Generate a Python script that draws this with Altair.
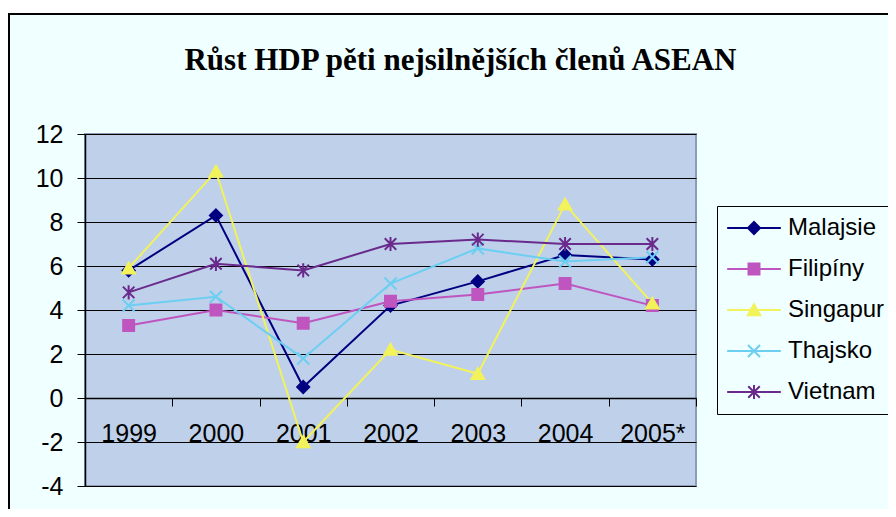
import altair as alt
import pandas as pd

# ---- data ----
years = ["1999", "2000", "2001", "2002", "2003", "2004", "2005*"]
series = ["Malajsie", "Filipíny", "Singapur", "Thajsko", "Vietnam"]
malajsie = [5.8, 8.3, 0.5, 4.2, 5.3, 6.5, 6.3]
filipiny = [3.3, 4.0, 3.4, 4.4, 4.7, 5.2, 4.2]
singapur = [5.9, 10.3, -2.0, 2.2, 1.1, 8.8, 4.3]
thajsko = [4.2, 4.6, 1.8, 5.2, 6.8, 6.2, 6.4]
vietnam = [4.8, 6.1, 5.8, 7.0, 7.2, 7.0, 7.0]
y_ticks = [-4, -2, 0, 2, 4, 6, 8, 10, 12]
title_text = "Růst HDP pěti nejsilnějších členů ASEAN"

colors = ["#000080", "#BF55BF", "#F2F25A", "#6CCFF2", "#6A2A8C"]
marker_paths = [
    "M0,-1.1L1.1,0L0,1.1L-1.1,0Z",
    "M-1,-1H1V1H-1Z",
    "M0,-1.05L1.15,0.95L-1.15,0.95Z",
    "M-1.1,-1.1L1.1,1.1M-1.1,1.1L1.1,-1.1",
    "M-1.05,-1.05L1.05,1.05M-1.05,1.05L1.05,-1.05M0,-1.3V1.3",
]
legend_paths = ["M-4.9,0H4.9" + p for p in marker_paths]

rows = []
for name, vals in zip(series, [malajsie, filipiny, singapur, thajsko, vietnam]):
    for yr, v in zip(years, vals):
        rows.append({"rok": yr, "serie": name, "hodnota": v})
df = pd.DataFrame(rows)

x_enc = alt.X(
    "rok:N",
    sort=years,
    bandPosition=0.5,
    scale=alt.Scale(type="band", domain=years, paddingInner=0, paddingOuter=0),
    axis=alt.Axis(
        title=None, offset=-88, tickBand="extent", tickSize=8, tickColor="black",
        domainColor="black", domainWidth=1.5, labelPadding=15, labelAngle=0,
        grid=False, labelFontSize=25, labelColor="black", labelFont="Liberation Sans",
    ),
)
y_enc = alt.Y(
    "hodnota:Q",
    scale=alt.Scale(domain=[-4, 12], nice=False, zero=False),
    axis=alt.Axis(
        title=None, values=y_ticks, grid=True, gridColor="black", gridWidth=1,
        tickColor="black", tickSize=8, domainColor="black", domainWidth=1.5,
        labelPadding=14, labelFontSize=25, labelColor="black", labelFont="Liberation Sans",
        labelExpr="'' + datum.value",
    ),
)

base = alt.Chart(df)

frame = alt.Chart(alt.Data(values=[{"a": 1}])).mark_rect(
    fill="#F0FFFF", fillOpacity=0, stroke="black", strokeWidth=2
).encode(
    x=alt.value(-76), x2=alt.value(900), y=alt.value(-120), y2=alt.value(700)
)
top_strip = alt.Chart(alt.Data(values=[{"a": 1}])).mark_rect(fill="white").encode(
    x=alt.value(-100), x2=alt.value(900), y=alt.value(-130), y2=alt.value(-121)
)

lines = base.mark_line(strokeWidth=2).encode(
    x=x_enc,
    y=y_enc,
    color=alt.Color("serie:N", scale=alt.Scale(domain=series, range=colors), legend=None),
)

points = base.mark_point(filled=True, size=120, strokeWidth=2, opacity=1).encode(
    x=x_enc,
    y=y_enc,
    shape=alt.Shape("serie:N", scale=alt.Scale(domain=series, range=marker_paths), legend=None),
    fill=alt.Fill("serie:N", scale=alt.Scale(domain=series, range=colors), legend=None),
    stroke=alt.Stroke("serie:N", scale=alt.Scale(domain=series, range=colors), legend=None),
)

legend_layer = base.transform_filter("datum.hodnota > 1000").mark_point(
    filled=True, size=120, strokeWidth=2, opacity=1
).encode(
    x=x_enc,
    y=y_enc,
    shape=alt.Shape("serie:N", scale=alt.Scale(domain=series, range=legend_paths),
                    legend=alt.Legend(title=None)),
    fill=alt.Fill("serie:N", scale=alt.Scale(domain=series, range=colors),
                  legend=alt.Legend(title=None)),
    stroke=alt.Stroke("serie:N", scale=alt.Scale(domain=series, range=colors),
                      legend=alt.Legend(title=None)),
)

chart = alt.layer(top_strip, frame, lines, points, legend_layer).resolve_scale(
    shape="independent", fill="independent", stroke="independent", color="independent"
).properties(
    width=611,
    height=352,
    autosize=alt.AutoSizeParams(type="none"),
    padding={"left": 77, "top": 126, "right": 192, "bottom": 23},
    title=alt.TitleParams(
        text=title_text, font="Liberation Serif", fontSize=31, fontWeight="bold",
        color="black", anchor="middle", frame="group", dx=70, offset=-97,
        baseline="alphabetic",
    ),
).configure(
    background="#F0FFFF",
).configure_view(
    fill="#BED0EA", stroke="#8C9DB5", strokeWidth=2,
).configure_legend(
    orient="none", legendX=632, legendY=72, padding=10,
    strokeColor="black", strokeWidth=1, fillColor="#F0FFFF", cornerRadius=0,
    symbolSize=120, symbolStrokeWidth=2, symbolOffset=15, labelOffset=22,
    rowPadding=17, labelFontSize=24, labelFont="Liberation Sans", labelColor="black",
    symbolOpacity=1,
)

chart.save("out.html", embed_options={"renderer": "svg", "actions": False})
